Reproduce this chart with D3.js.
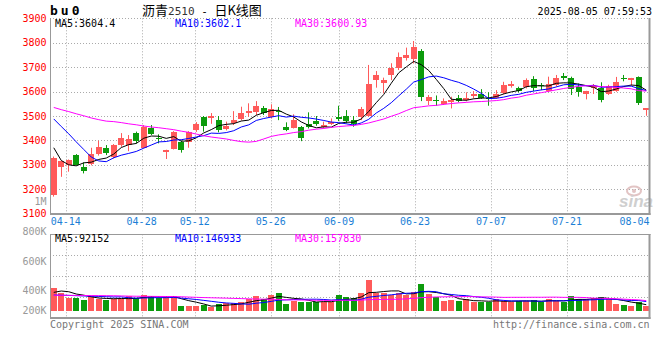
<!DOCTYPE html>
<html><head><meta charset="utf-8">
<script src="https://cdn.jsdelivr.net/npm/d3@7"></script>
<style>body{margin:0;background:#fff}svg{display:block}</style>
</head><body>
<svg id="c" width="660" height="360"></svg>
<script>
// ---------------- data ----------------
const dates = ["04-10","04-11","04-14","04-15","04-16","04-17","04-18","04-21","04-22","04-23","04-24","04-25","04-28","04-29","04-30",
"05-06","05-07","05-08","05-09","05-12","05-13","05-14","05-15","05-16","05-19","05-20","05-21","05-22","05-23","05-26","05-27","05-28","05-29","05-30",
"06-03","06-04","06-05","06-06","06-09","06-10","06-11","06-12","06-13","06-16","06-17","06-18","06-19","06-20","06-23","06-24","06-25","06-26","06-27","06-30",
"07-01","07-02","07-03","07-04","07-07","07-08","07-09","07-10","07-11","07-14","07-15","07-16","07-17","07-18","07-21","07-22","07-23","07-24","07-25","07-28","07-29","07-30","07-31",
"08-01","08-04","08-05"];
const open  = [3177,3292,3298,3340,3291,3305,3343,3367,3333,3381,3381,3430,3370,3450,3408,3354,3365,3395,3392,3443,3496,3493,3482,3447,3470,3488,3512,3516,3531,3496,3519,3455,3452,3455,3466,3479,3453,3468,3496,3500,3483,3494,3501,3649,3636,3668,3698,3739,3733,3766,3561,3567,3550,3559,3573,3566,3583,3592,3575,3574,3593,3624,3614,3620,3651,3627,3603,3627,3663,3657,3620,3591,3616,3616,3589,3604,3657,3646,3660,3526];
const high  = [3334,3317,3322,3344,3310,3370,3399,3381,3385,3430,3422,3436,3463,3463,3425,3362,3438,3400,3438,3475,3500,3512,3500,3477,3520,3538,3552,3561,3541,3548,3537,3474,3507,3459,3515,3500,3477,3490,3542,3524,3500,3537,3709,3684,3657,3716,3760,3780,3807,3774,3586,3584,3572,3579,3586,3597,3602,3610,3597,3606,3640,3643,3620,3654,3663,3635,3661,3668,3676,3661,3633,3603,3631,3638,3628,3660,3668,3656,3662,3531];
const low   = [3170,3251,3272,3297,3265,3298,3338,3340,3326,3374,3356,3388,3367,3422,3388,3324,3363,3350,3370,3435,3436,3468,3433,3441,3463,3482,3497,3504,3504,3490,3483,3438,3449,3397,3449,3460,3449,3463,3479,3470,3456,3483,3497,3616,3593,3647,3688,3727,3715,3561,3545,3542,3545,3531,3556,3560,3572,3570,3542,3570,3589,3616,3597,3613,3602,3606,3598,3620,3647,3586,3579,3568,3590,3556,3586,3599,3642,3624,3545,3501];
const close = [3330,3317,3320,3299,3275,3344,3373,3348,3381,3408,3404,3397,3455,3426,3404,3360,3433,3361,3433,3467,3459,3501,3443,3459,3482,3512,3520,3542,3512,3527,3515,3443,3483,3411,3455,3466,3463,3477,3488,3479,3466,3529,3631,3668,3647,3696,3743,3750,3782,3579,3578,3561,3561,3565,3562,3573,3591,3575,3569,3590,3627,3632,3603,3647,3613,3621,3631,3657,3657,3610,3597,3601,3623,3567,3623,3639,3651,3654,3555,3531];
const volume = [361000,283000,204000,204000,167000,236000,183000,173000,183000,183000,225000,204000,246000,225000,194000,225000,225000,73000,73000,73000,
84000,58000,99000,115000,126000,136000,183000,230000,183000,251000,277000,105000,152000,141000,141000,141000,141000,141000,246000,215000,
199000,277000,481000,272000,277000,246000,277000,246000,293000,419000,256000,215000,152000,167000,152000,183000,136000,136000,136000,183000,
152000,136000,152000,152000,162000,136000,183000,152000,141000,230000,183000,183000,194000,215000,194000,105000,89000,73000,131000,73000];
// moving-average values before enough in-window history exists
const ma5Head  = [3370,3318,3300,3296];
const ma10Head = [3488,3457,3427,3394,3363,3332,3316,3313,3329];
const ma30Head = [3535,3526,3518,3509,3501,3492,3485,3479,3477,3473,3468,3464,3459,3455,3452,3448,3444,3438,3433,3426,3419,3414,3410,3406,3400,3395,3393,3396,3406];
const volMa5Head  = [288000,309000,298000,262000];
const volMa10Head = [246000,243000,240000,236000,232000,228000,224000,220000,216000];
const volMa30Head = [243000,242000,241000,240000,239000,238000,237000,236000,235000,232000,229000,227000,226000,225000,224000,223000,222000,219000,214000,210000,206000,203000,200000,197000,193000,190000,186000,183000,181000];
const priceTicks = [3100,3200,3300,3400,3500,3600,3700,3800,3900];
const dateTicks = ["04-14","04-28","05-12","05-26","06-09","06-23","07-07","07-21","08-04"];
const volTickValues = [200000,400000,600000,800000,1000000];
const volTickLabels = ["200K","400K","600K","800K","1M"];
const maNames = ["MA5","MA10","MA30"];
const priceMaLegend = ["3604.4","3602.1","3600.93"];
const volMaLegend = ["92152","146933","157830"];
const titleSymbol = "bu0";
const titleName = ["沥青","2510"," - ","日K线图"];
const timestamp = "2025-08-05 07:59:53";

// ---------------- drawing ----------------
const svg = d3.select("#c");
const MONO = "'DejaVu Sans Mono', monospace";
const RED = "#ff5a5a", GREEN = "#0c9b0c";
const maColors = ["#000000","#0000ff","#ff00ff"];
const PL = 50, PR = 650, PT = 18.3, PB = 213.7, VT = 234.3, VB = 317.7, VBASE = 310.7;

const xb = d3.scaleBand().domain(dates).range([PL, PR]).paddingInner(0.24).paddingOuter(0.12);
const xc = d => xb(d) + xb.bandwidth()/2;
const xg = d3.scalePoint().domain(dates).range([PL + 0.5, PR + 0.5]);
const y = d3.scaleLinear().domain([3100,3900]).range([PB, PT]);
const yv = d3.scaleLinear().domain([0,1200000]).range([VBASE, VT]);
const yvLabel = d3.scaleLinear().domain(volTickValues).range([310,290,261,231,201]);

function ma(arr, n, head){ return arr.map((_, i) => i < n-1 ? head[i] : d3.mean(arr.slice(i-n+1, i+1))); }
const pMA = [ma(close,5,ma5Head), ma(close,10,ma10Head), ma(close,30,ma30Head)];
const vMA = [ma(volume,5,volMa5Head), ma(volume,10,volMa10Head), ma(volume,30,volMa30Head)];

const grid = svg.append("g").attr("stroke","#aaa").attr("stroke-width",1).attr("stroke-dasharray","1,2");
priceTicks.slice(1).forEach(t => {
  const yy = Math.round(y(t)) + 0.5;
  grid.append("line").attr("x1",PL).attr("x2",PR).attr("y1",yy).attr("y2",yy);
});
d3.range(1,4).forEach(k => {
  const yy = Math.round(VT + k*(VB-VT)/4) + 0.5;
  grid.append("line").attr("x1",PL).attr("x2",PR).attr("y1",yy).attr("y2",yy);
});
dateTicks.forEach(d => {
  const xx = Math.round(xg(d)) + 0.5;
  if (xx > PR - 12) return;
  grid.append("line").attr("x1",xx).attr("x2",xx).attr("y1",PT).attr("y2",PB);
  grid.append("line").attr("x1",xx).attr("x2",xx).attr("y1",VT).attr("y2",VB);
});

// watermark
const wm = svg.append("g");
wm.append("ellipse").attr("cx",634).attr("cy",191).attr("rx",7).attr("ry",4.5)
  .attr("fill","none").attr("stroke","#e2c4c4").attr("stroke-width",2);
wm.append("circle").attr("cx",634).attr("cy",191).attr("r",2).attr("fill","#e2c4c4");
wm.append("text").attr("x",619).attr("y",207).attr("font-family","'Liberation Sans', Arial, sans-serif")
  .attr("font-size",17).attr("font-weight","bold").attr("font-style","italic").attr("fill","#cfcfcf").text("sina");

// candles
const cg = svg.append("g");
dates.forEach((d,i) => {
  const up = close[i] >= open[i];
  const col = up ? RED : GREEN;
  const cx = Math.floor(xc(d)) + 0.5;
  cg.append("line").attr("x1",cx).attr("x2",cx).attr("y1",y(high[i])).attr("y2",y(low[i]))
    .attr("stroke",col).attr("stroke-width",1);
  const x0 = Math.round(xb(d)), x1 = Math.round(xb(d) + xb.bandwidth());
  const yt = Math.round(y(Math.max(open[i],close[i]))), ybm = Math.round(y(Math.min(open[i],close[i])));
  cg.append("rect").attr("x",x0).attr("width",x1-x0).attr("y",yt).attr("height",Math.max(1,ybm-yt)).attr("fill",col);
});

pMA.forEach((s,k) => {
  svg.append("path").datum(s).attr("fill","none").attr("stroke",maColors[k]).attr("stroke-width",1)
    .attr("d", d3.line().x((v,i) => xc(dates[i])).y(v => y(v)));
});

const vg = svg.append("g");
dates.forEach((d,i) => {
  const col = close[i] >= open[i] ? RED : GREEN;
  const x0 = Math.round(xb(d)), x1 = Math.round(xb(d) + xb.bandwidth());
  const yt = Math.round(yv(volume[i])), yb0 = Math.round(yv(0));
  vg.append("rect").attr("x",x0).attr("width",x1-x0).attr("y",yt).attr("height",yb0-yt).attr("fill",col);
});
vMA.forEach((s,k) => {
  svg.append("path").datum(s).attr("fill","none").attr("stroke",maColors[k]).attr("stroke-width",1)
    .attr("d", d3.line().x((v,i) => xc(dates[i])).y(v => yv(v)));
});

// borders
const bd = svg.append("g").attr("stroke","#999").attr("fill","none");
bd.append("line").attr("x1",PL).attr("x2",PR).attr("y1",18.5).attr("y2",18.5).attr("stroke","#aaa").attr("stroke-dasharray","1,2");
bd.append("line").attr("x1",PL+0.5).attr("x2",PL+0.5).attr("y1",18).attr("y2",215);
bd.append("line").attr("x1",PR-0.5).attr("x2",PR-0.5).attr("y1",18).attr("y2",215).attr("stroke-width",2);
bd.append("line").attr("x1",PL).attr("x2",PR+0.5).attr("y1",214).attr("y2",214).attr("stroke-width",2);
bd.append("line").attr("x1",PL).attr("x2",PR+0.5).attr("y1",234.5).attr("y2",234.5);
bd.append("line").attr("x1",PL+0.5).attr("x2",PL+0.5).attr("y1",234).attr("y2",319);
bd.append("line").attr("x1",PR-0.5).attr("x2",PR-0.5).attr("y1",234).attr("y2",319).attr("stroke-width",2);
bd.append("line").attr("x1",PL).attr("x2",PR+0.5).attr("y1",318).attr("y2",318).attr("stroke-width",2);

const tx = svg.append("g").attr("font-family",MONO).attr("font-size",10);
priceTicks.forEach(t => {
  tx.append("text").attr("x",46.5).attr("y",y(t)).attr("dy","0.35em").attr("text-anchor","end")
    .attr("fill","#ff0000").text(t);
});
volTickValues.forEach((v,k) => {
  tx.append("text").attr("x",46.5).attr("y",yvLabel(v)).attr("dy","0.35em").attr("text-anchor","end")
    .attr("fill","#999").text(volTickLabels[k]);
});
dateTicks.forEach(d => {
  const xx = Math.min(xg(d), PR - 15.5);
  tx.append("text").attr("x",xx).attr("y",225).attr("text-anchor","middle").attr("fill","#1c7fd6").text(d);
});
const legX = [55,175,295];
maNames.forEach((n,k) => {
  tx.append("text").attr("x",legX[k]).attr("y",26.5).attr("fill",maColors[k]).text(n + ":" + priceMaLegend[k]);
  tx.append("text").attr("x",legX[k]).attr("y",242).attr("fill",maColors[k]).text(n + ":" + volMaLegend[k]);
});
svg.append("text").attr("x",50).attr("y",15).attr("font-family",MONO).attr("font-size",13)
  .attr("font-weight","bold").attr("letter-spacing",3).attr("fill","#000").text(titleSymbol);
const tt = svg.append("text").attr("x",142).attr("y",15).attr("font-family","'Noto Sans CJK SC', sans-serif")
  .attr("font-size",13).attr("fill","#000");
tt.append("tspan").text(titleName[0]);
tt.append("tspan").attr("font-family",MONO).attr("font-size",11).attr("fill","#333").text(titleName[1]);
tt.append("tspan").attr("font-family",MONO).attr("font-size",11).attr("xml:space","preserve").text(titleName[2]);
tt.append("tspan").text(titleName[3]);
svg.append("text").attr("x",652).attr("y",15).attr("text-anchor","end").attr("font-family",MONO)
  .attr("font-size",10).attr("fill","#000").text(timestamp);
svg.append("text").attr("x",50).attr("y",327.5).attr("font-family",MONO).attr("font-size",10)
  .attr("fill","#777").text("Copyright 2025 SINA.COM");
svg.append("text").attr("x",649.5).attr("y",327.5).attr("text-anchor","end").attr("font-family",MONO).attr("font-size",10)
  .attr("fill","#777").text("http://finance.sina.com.cn");
</script>
</body></html>
